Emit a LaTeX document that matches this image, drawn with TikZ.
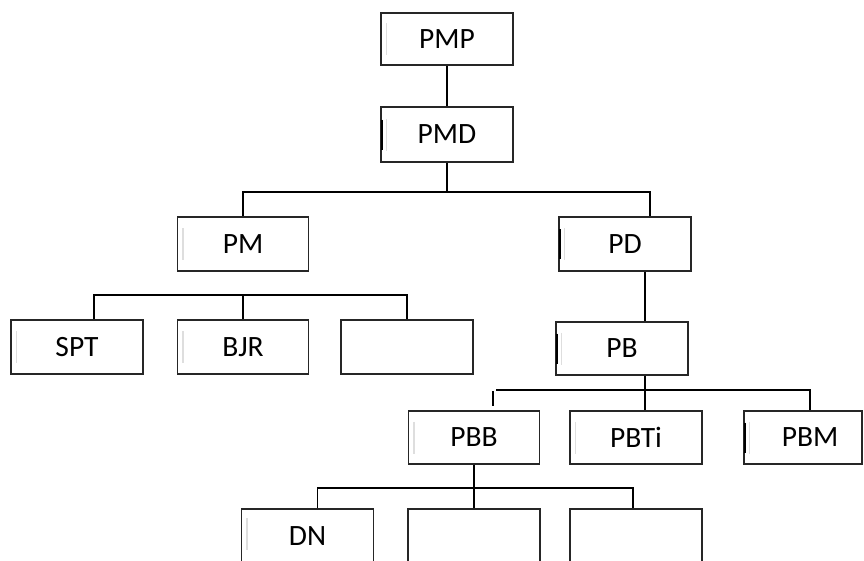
\documentclass[tikz,border=0pt]{standalone}
\usepackage{fontspec}
\setmainfont{Carlito}
\begin{document}
\begin{tikzpicture}[x=1pt,y=-1pt,
  box/.style={draw=black!85, line width=1.4pt, rectangle, inner sep=0pt,
              minimum width=132pt, minimum height=54pt,
              font=\fontsize{29.5}{33}\selectfont},
  boxlabel/.style={inner sep=0pt, font=\fontsize{29.5}{33}\selectfont},
  link/.style={draw=black, line width=1.7pt},
  heavy/.style={draw=black, line width=2.8pt},
  edgebar/.style={draw=black, line width=2.2pt},
  shadebar/.style={draw=black!13, line width=1.6pt}]
\useasboundingbox (0,0) rectangle (864,560);

% top of the hierarchy
\node[box, minimum height=52pt] (pmp) at (447,39) {PMP};
\node[box, minimum height=55pt] (pmd) at (447,134.5) {PMD};

% second level
\node[box, minimum width=131pt] (pm) at (243,244) {PM};
\node[box] (pd) at (625,244) {PD};

% units under PM
\node[box] (spt) at (77,347) {SPT};
\node[box, minimum width=131pt] (bjr) at (243,347) {BJR};
\node[box] (e1) at (407,347) {};

% branch under PD
\node[box, minimum height=53pt] (pb) at (622,348.5) {PB};
\node[box, minimum width=131pt, minimum height=53pt] (pbb) at (474,437.5) {PBB};
\node[box, minimum height=53pt] (pbti) at (636,437.5) {PBTi};
\node[box, minimum width=118pt, minimum height=53pt] (pbm) at (803,437.5) {};
\node[boxlabel] (pbmtext) at (810,437.5) {PBM};

% bottom row
\node[box] (dn) at (307.5,536) {DN};
\node[box] (e2) at (474,536) {};
\node[box] (e3) at (636,536) {};

% junction points
\coordinate (busA) at (0,192);
\coordinate (busB) at (0,295);
\coordinate (busC) at (0,390);
\coordinate (busD) at (0,488);
\coordinate (pdin)  at ([xshift=25pt]pd.north);
\coordinate (sptin) at ([xshift=17pt]spt.north);
\coordinate (pdout) at ([xshift=20pt]pd.south);
\coordinate (pbout) at ([xshift=23pt]pb.south);
\coordinate (pbmin) at ([xshift=7pt]pbm.north);
\coordinate (busCstart) at (496,390);
\coordinate (tickTop) at (493,391);
\coordinate (tickEnd) at (493,406);
\coordinate (dnin) at ([xshift=10pt]dn.north);
\coordinate (e3in) at ([xshift=-3pt]e3.north);

% connectors
\draw[link] (pmd.north) -- (pmd.north |- pmp.south);
\draw[link] (pmd.south) -- (pmd.south |- busA);
\draw[link] (pm.north) -- (pm.north |- busA) -- (pdin |- busA) -- (pdin);

\draw[link] (sptin) -- (sptin |- busB) -- (e1.north |- busB) -- (e1.north);
\draw[link] (bjr.north) -- (bjr.north |- busB);

\draw[heavy] (pdout) -- (pdout |- pb.north);
\draw[heavy] (pbout) -- (pbout |- pbti.north);
\draw[link] (busCstart) -- (busC -| pbmin) -- (pbmin);
\draw[link] (tickTop) -- (tickEnd);

\draw[link] (pbb.south) -- (e2.north);
\draw[link] (dnin) -- (dnin |- busD) -- (e3in |- busD) -- (e3in);

% heavier left edges on some boxes
\foreach \b in {pmd,pd,pb,pbm}
  \draw[edgebar] ([xshift=2pt]\b.west) ++(0,-15) -- ++(0,30);
% faint inner bars near the left edges
\foreach \b in {pmp,pmd,pm,pd,spt,bjr,pb,pbb,pbti,pbm}
  \draw[shadebar] ([xshift=6pt]\b.west) ++(0,-16) -- ++(0,32);
\draw[shadebar] ([xshift=6pt]dn.north west) ++(0,10) -- ++(0,32);
\end{tikzpicture}
\end{document}
